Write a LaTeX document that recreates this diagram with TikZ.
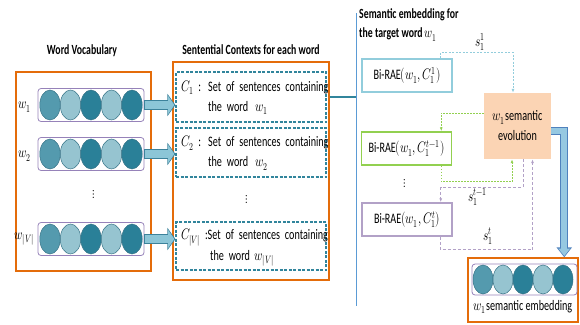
\documentclass[tikz,border=0pt]{standalone}
\usepackage{graphicx}
\usepackage{fontspec}
\usepackage{unicode-math}
\setmainfont{Carlito}[FakeStretch=0.7]
\setmathfont{Latin Modern Math}
\usetikzlibrary{positioning,calc,arrows.meta,shapes.geometric}

% narrow math, to go with the narrow text face
\newcommand{\sqm}[1]{\scalebox{0.78}[1.05]{$#1$}}

\definecolor{panelorange}{RGB}{228,108,10}
\definecolor{rowpurple}{RGB}{150,130,185}
\definecolor{unitmid}{RGB}{84,154,174}
\definecolor{unitlight}{RGB}{150,196,208}
\definecolor{unitdark}{RGB}{42,128,152}
\definecolor{unitedge}{RGB}{55,115,135}
\definecolor{ctxteal}{RGB}{49,133,156}
\definecolor{arrowedge}{RGB}{60,130,155}
\definecolor{arrowfill}{RGB}{140,198,215}
\definecolor{divblue}{RGB}{91,155,213}
\definecolor{raeblue}{RGB}{146,205,220}
\definecolor{raegreen}{RGB}{146,208,80}
\definecolor{raepurple}{RGB}{178,161,199}
\definecolor{evopeach}{RGB}{251,212,180}
\definecolor{bentedge}{RGB}{79,129,189}
\definecolor{bentfill}{RGB}{150,200,225}

\tikzset{
  panel/.style={draw=panelorange, line width=1.5pt},
  title/.style={font=\fontsize{14}{19}\selectfont\bfseries, inner sep=0pt},
  wordrow/.style={draw=rowpurple, rounded corners=3pt, line width=0.8pt,
    minimum width=106pt, minimum height=33pt},
  unit/.style={ellipse, draw=unitedge, line width=0.5pt, inner sep=0pt,
    minimum width=20.5pt, minimum height=30pt},
  dots/.style={font=\fontsize{12}{12}\selectfont, inner sep=0pt},
  ctxbox/.style={draw=ctxteal, dash pattern=on 3pt off 1.5pt, line width=1.2pt,
    text width=140pt, inner xsep=5pt, inner ysep=0pt, align=left},
  fatedge/.style={draw=arrowedge, line width=10pt, -{Triangle[length=8pt,width=22pt]}},
  fatfill/.style={draw=arrowfill, line width=8pt, -{Triangle[length=6.2pt,width=18pt]},
    shorten >=1.1pt, shorten <=1pt},
  divider/.style={draw=divblue, line width=1pt},
  ctxlink/.style={draw=ctxteal, line width=2.5pt},
  rae/.style={line width=1.5pt, minimum width=90pt, minimum height=33pt, inner sep=2pt},
  evo/.style={fill=evopeach, minimum width=67pt, minimum height=66pt, align=center, inner sep=2pt},
  feedblue/.style={draw=raeblue, line width=0.8pt, dash pattern=on 2pt off 1.5pt,
    -{Latex[length=4pt,width=3pt]}},
  feedgreen/.style={draw=raegreen, line width=1pt, dash pattern=on 1.5pt off 1.5pt,
    -{Latex[length=4pt,width=3pt]}},
  feedpurple/.style={draw=raepurple, line width=0.8pt, dash pattern=on 3pt off 2pt,
    -{Latex[length=4pt,width=3pt]}},
  slabel/.style={inner sep=1pt},
  bentout/.style={draw=bentedge, line width=8pt, -{Triangle[length=10pt,width=15pt]}},
  bentin/.style={draw=bentfill, line width=6pt, -{Triangle[length=7.4pt,width=11.4pt]},
    shorten >=1.3pt}
}

\begin{document}
\begin{tikzpicture}[x=1pt,y=-1pt,font=\fontsize{14.5}{20}\selectfont]
  \useasboundingbox (0,0) rectangle (580,324);

  % panels
  \node[panel, minimum width=135pt, minimum height=199pt] (vocab) at (83.5,171.5) {};
  \node[panel, minimum width=156pt, minimum height=218pt] (ctx) at (251,171) {};
  \node[panel, minimum width=110pt, minimum height=64pt] (emb) at (523,290) {};

  % titles
  \node[title] (vocabtitle) at (82,51) {Word Vocabulary};
  \node[title] (ctxtitle) at (251,50) {Sentential Contexts for each word};
  \node[title, anchor=west, align=left] (embtitle) at (359,25)
    {Semantic embedding for\\the target word \sqm{w_1}};

  % word vectors
  \foreach \r/\y in {1/105,2/154,3/239}{
    \node[wordrow] (row\r) at (91,\y) {};
    \foreach \c/\k in {1/unitmid,2/unitlight,3/unitdark,4/unitlight,5/unitdark}
      \node[unit, fill=\k] (u\r\c) at ({91+20.5*(\c-3)},\y) {};
  }
  \node[left=3pt of row1, yshift=-2pt] (w1) {\sqm{w_1}};
  \node[left=3pt of row2, yshift=-2pt] (w2) {\sqm{w_2}};
  \node[left=0pt of row3] (wv) {\sqm{w_{|V|}}};
  \node[dots] (vdots) at (94,194) {$\vdots$};

  % sentential contexts
  \node[ctxbox, minimum height=50pt] (c1) at (251,97)
    {\begin{tabular}{@{}l@{ }l@{}}\sqm{C_1} :&Set of sentences containing\\&the word \,\sqm{w_1}\end{tabular}};
  \node[ctxbox, minimum height=49pt] (c2) at (251,152.5)
    {\begin{tabular}{@{}l@{ }l@{}}\sqm{C_2} :&Set of sentences containing\\&the word \,\sqm{w_2}\end{tabular}};
  \node[ctxbox, minimum height=48pt] (c3) at (251,246)
    {\begin{tabular}{@{}l@{}l@{}}\sqm{C_{|V|}} :&Set of sentences containing\\&\,the word \sqm{w_{|V|}}\end{tabular}};
  \node[dots] (cdots) at (247,199) {$\vdots$};

  \foreach \r/\c in {1/c1,2/c2,3/c3}{
    \draw[fatedge] (row\r.east) -- (row\r.east -| \c.west);
    \draw[fatfill] (row\r.east) -- (row\r.east -| \c.west);
  }

  % divider
  \coordinate (divtop) at (356,13);
  \coordinate (divbot) at (356,306);
  \draw[divider] (divtop) -- (divbot);
  \draw[ctxlink] (c1 -| ctx.east) -- (c1 -| divtop);

  % Bi-RAE steps
  \node[rae, draw=raeblue] (b1) at (407,75.5) {Bi-RAE\sqm{(w_1, C_1^1)}};
  \node[rae, draw=raegreen] (b2) at (406.5,148.5) {Bi-RAE\sqm{(w_1, C_1^{t-1})}};
  \node[rae, draw=raepurple] (b3) at (407,219.5) {Bi-RAE\sqm{(w_1, C_1^{t})}};
  \node[dots] (rdots) at (405,183) {$\vdots$};

  \node[evo] (evo) at (517.5,126) {\sqm{w_1}semantic\\evolution};

  % feedback
  \draw[feedblue] ($(b1.north east)+(-12,0)$) -- ++(0,-6) -| ($(evo.north)+(-4.5,0)$);
  \node[slabel] (s11) at (480,42) {\sqm{s_1^1}};
  \draw[feedgreen] ($(evo.west)+(0,-13)$) -| ($(b2.north east)+(-11,0)$);
  \draw[feedgreen] ($(b2.south east)+(-11,0)$) -- ++(0,16) -| ($(evo.south)+(-5.5,0)$);
  \draw[feedpurple] ($(evo.south)+(5.5,0)$) |- ($(b3.north east)+(-12,-15)$)
    -- ($(b3.north east)+(-12,0)$);
  \node[slabel] (s1t1) at (478,197) {\sqm{s_1^{t-1}}};
  \draw[feedpurple] ($(b3.south east)+(-12,0)$) -- ++(0,13) -| ($(evo.south)+(15,0)$);
  \node[slabel] (s1t) at (488,236) {\sqm{s_1^{t}}};

  % final embedding
  \node[wordrow, minimum width=105pt, minimum height=31pt] (erow) at (524.5,279.5) {};
  \foreach \c/\k in {1/unitmid,2/unitlight,3/unitdark,4/unitlight,5/unitdark}
    \node[unit, fill=\k, minimum width=20pt, minimum height=29pt] (e\c) at ({523+20*(\c-3)},279.5) {};
  \node (embtext) at (523,307) {\sqm{w_1}semantic embedding};

  \coordinate (embin) at ($(emb.north east)+(-14.5,0)$);
  \draw[bentout] ($(evo.east)+(0,5)$) -| (embin);
  \draw[bentin] ($(evo.east)+(0,5)$) -| (embin);
\end{tikzpicture}
\end{document}
